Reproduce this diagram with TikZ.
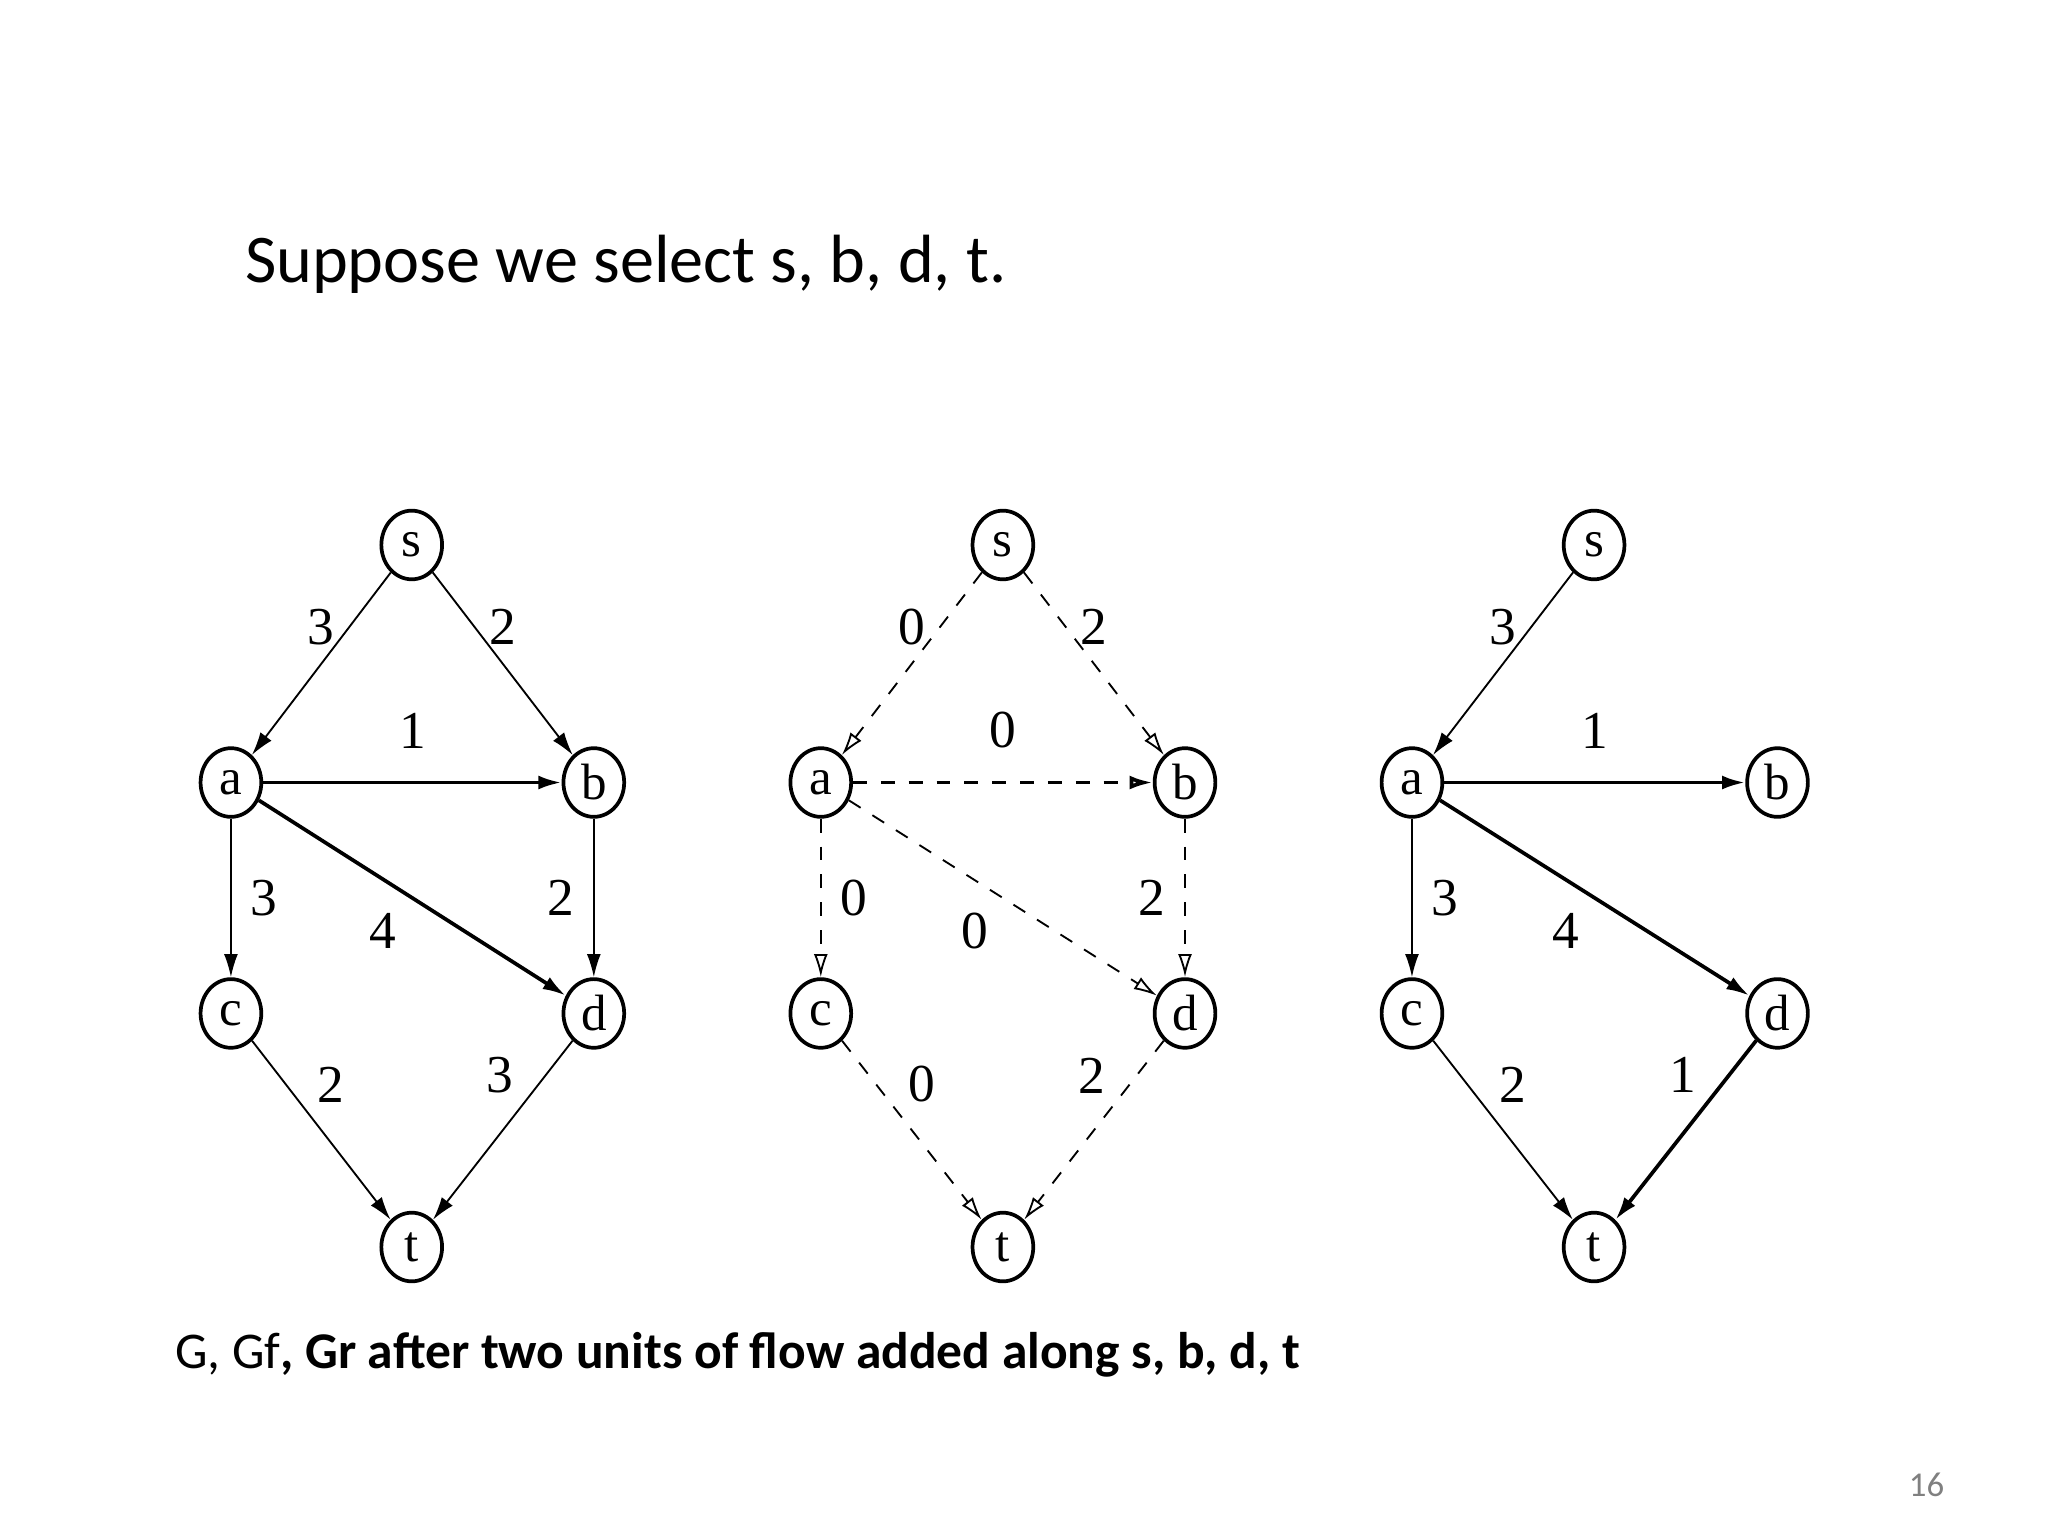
\documentclass[tikz,border=0pt]{standalone}
\usepackage{fontspec}
\setmainfont{Carlito}
\newfontfamily\tms{Liberation Serif}
\usetikzlibrary{arrows.meta,shapes.geometric}
\begin{document}
\begin{tikzpicture}[x=0.01cm,y=-0.01cm,
 vtx/.style={draw,thick,ellipse,minimum width=0.46cm,minimum height=0.52cm,inner sep=0pt,font=\tms\fontsize{11}{11}\selectfont},
 lab/.style={font=\tms\fontsize{11.5}{12}\selectfont,inner sep=1pt},
 arc/.style={thin,-{Latex[length=5pt,width=3pt]}},
 darc/.style={thin,dashed,-{Latex[open,length=5pt,width=3pt]}}]
\useasboundingbox (0,0) rectangle (1552,1164);
\node[anchor=west,inner sep=0pt,font=\fontsize{14.7}{16}\selectfont] (title) at (185,200) {Suppose we select s, b, d, t.};
% graph 1
\node[vtx] (s1) at (312,413) {s}; \node[vtx] (a1) at (175,593) {a};
\node[vtx] (b1) at (450,593) {b}; \node[vtx] (c1) at (175,768) {c};
\node[vtx] (d1) at (450,768) {d}; \node[vtx] (t1) at (312,945) {t};
\draw[arc] (s1) -- node[lab,pos=0.3,left=2pt]{3} (a1);
\draw[arc] (s1) -- node[lab,pos=0.3,right=2pt]{2} (b1);
\draw[arc,thick] (a1) -- node[lab,above=6pt]{1} (b1);
\draw[arc] (a1) -- node[lab,right=3pt]{3} (c1);
\draw[arc,thick] (a1) -- node[lab,pos=0.5,below left=2pt]{4} (d1);
\draw[arc] (b1) -- node[lab,left=3pt]{2} (d1);
\draw[arc] (c1) -- node[lab,pos=0.4,above right=1pt]{2} (t1);
\draw[arc] (d1) -- node[lab,pos=0.35,above left=1pt]{3} (t1);
% graph 2
\node[vtx] (s2) at (760,413) {s}; \node[vtx] (a2) at (622,593) {a};
\node[vtx] (b2) at (898,593) {b}; \node[vtx] (c2) at (622,768) {c};
\node[vtx] (d2) at (898,768) {d}; \node[vtx] (t2) at (760,945) {t};
\draw[darc] (s2) -- node[lab,pos=0.3,left=2pt]{0} (a2);
\draw[darc] (s2) -- node[lab,pos=0.3,right=2pt]{2} (b2);
\draw[darc,thick] (a2) -- node[lab,above=6pt]{0} (b2);
\draw[darc] (a2) -- node[lab,right=3pt]{0} (c2);
\draw[darc] (a2) -- node[lab,pos=0.5,below left=2pt]{0} (d2);
\draw[darc] (b2) -- node[lab,left=3pt]{2} (d2);
\draw[darc] (c2) -- node[lab,pos=0.4,above right=1pt]{0} (t2);
\draw[darc] (d2) -- node[lab,pos=0.35,above left=1pt]{2} (t2);
% graph 3
\node[vtx] (s3) at (1208,413) {s}; \node[vtx] (a3) at (1070,593) {a};
\node[vtx] (b3) at (1347,593) {b}; \node[vtx] (c3) at (1070,768) {c};
\node[vtx] (d3) at (1347,768) {d}; \node[vtx] (t3) at (1208,945) {t};
\draw[arc] (s3) -- node[lab,pos=0.3,left=2pt]{3} (a3);
\draw[arc,thick] (a3) -- node[lab,above=6pt]{1} (b3);
\draw[arc] (a3) -- node[lab,right=3pt]{3} (c3);
\draw[arc,thick] (a3) -- node[lab,pos=0.5,below left=2pt]{4} (d3);
\draw[arc] (c3) -- node[lab,pos=0.4,above right=1pt]{2} (t3);
\draw[arc,thick] (d3) -- node[lab,pos=0.35,above left=1pt]{1} (t3);
\node[anchor=west,inner sep=0pt,font=\fontsize{11.1}{12}\selectfont] (cap) at (132,1027) {G, Gf\textbf{, Gr after two units of flow added along s, b, d, t}};
\node[font=\fontsize{7.5}{8}\selectfont,text=gray] (num) at (1460,1125) {16};
\end{tikzpicture}
\end{document}
